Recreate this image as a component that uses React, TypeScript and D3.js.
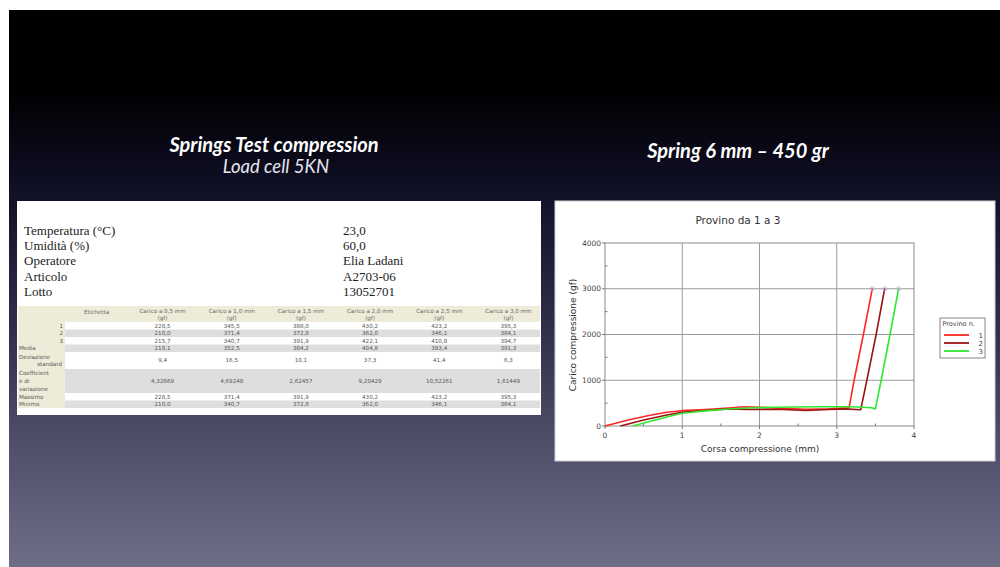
import React from "react";
import * as d3 from "d3";

// ---------- Slide titles ----------
const leftTitle = "Springs Test compression";
const leftSubtitle = "Load cell 5KN";
const rightTitle = "Spring 6 mm \u2013 450 gr";

// ---------- Info block ----------
const infoLabels = ["Temperatura (\u00B0C)", "Umidit\u00E0 (%)", "Operatore", "Articolo", "Lotto"];
const infoValues = ["23,0", "60,0", "Elia Ladani", "A2703-06", "13052701"];

// ---------- Table ----------
const tableHeaders = ["Carico a 0,5 mm", "Carico a 1,0 mm", "Carico a 1,5 mm", "Carico a 2,0 mm", "Carico a 2,5 mm", "Carico a 3,0 mm"];
const headerUnit = "(gf)";
const rowLabels: string[][] = [["1"], ["2"], ["3"], ["Media"], ["Deviazione", "standard"], ["Coefficient", "e di", "variazione"], ["Massimo"], ["Minimo"]];
const row1 = ["228,5", "345,5", "388,0", "430,2", "423,2", "395,3"];
const row2 = ["210,0", "371,4", "372,8", "362,0", "346,1", "384,1"];
const row3 = ["215,7", "340,7", "391,9", "422,1", "410,8", "394,7"];
const rowMedia = ["218,1", "352,5", "384,2", "404,8", "393,4", "391,3"];
const rowDev = ["9,4", "16,5", "10,1", "37,3", "41,4", "6,3"];
const rowCoeff = ["4,32669", "4,69248", "2,62457", "9,20429", "10,52261", "1,61449"];
const rowMax = ["228,5", "371,4", "391,9", "430,2", "423,2", "395,3"];
const rowMin = ["210,0", "340,7", "372,8", "362,0", "346,1", "384,1"];
const tableRows = [row1, row2, row3, rowMedia, rowDev, rowCoeff, rowMax, rowMin];
const rowWeights = [1, 1, 1, 1, 2.25, 3.2, 1, 1];

// ---------- Chart ----------
const chartTitle = "Provino da 1 a 3";
const xLabel = "Corsa compressione (mm)";
const yLabel = "Carico compressione (gf)";
const xTicks = [0, 1, 2, 3, 4];
const yTicks = [0, 1000, 2000, 3000, 4000];
const xMinor = [0.5, 1.5, 2.5, 3.5];
const yMinor = [500, 1500, 2500, 3500];
const legendTitle = "Provino n.";
const seriesNames = ["1", "2", "3"];
const seriesColors = ["#ff2626", "#9a1414", "#2ee82e"];
const s1x = [0, 0.3, 0.6, 0.8, 1.0, 1.3, 1.6, 1.8, 2.0, 2.3, 2.6, 2.9, 3.16, 3.225, 3.345, 3.46];
const s1y = [0, 130, 240, 300, 335, 360, 395, 420, 410, 385, 365, 375, 400, 1000, 2000, 3000];
const s2x = [0.2, 0.5, 0.8, 1.0, 1.3, 1.6, 1.85, 2.0, 2.3, 2.6, 2.9, 3.1, 3.31, 3.39, 3.51, 3.62];
const s2y = [0, 130, 240, 300, 340, 375, 360, 365, 360, 340, 360, 375, 355, 1000, 2000, 3000];
const s3x = [0.36, 0.6, 0.85, 1.0, 1.3, 1.6, 2.0, 2.4, 2.8, 3.2, 3.45, 3.5, 3.575, 3.69, 3.8];
const s3y = [0, 110, 220, 280, 330, 370, 405, 415, 420, 420, 400, 370, 1000, 2000, 3000];
const seriesX = [s1x, s2x, s3x];
const seriesY = [s1y, s2y, s3y];

const SANS = "'DejaVu Sans', Verdana, sans-serif";
const TITLE_FONT = "Lato, 'Open Sans', sans-serif";

export default function App() {
  // chart scales
  const x = d3.scaleLinear().domain([0, 4]).range([605, 914]);
  const y = d3.scaleLinear().domain([0, 4000]).range([426, 243]);
  const line = d3
    .line<[number, number]>()
    .x((d) => x(d[0]))
    .y((d) => y(d[1]));

  // table scales
  const colX = d3.scaleLinear().domain([0, 6]).range([128, 543]);
  const colW = colX(1) - colX(0);
  const tableTop = 322;
  const tableBottom = 408;
  const totalW = d3.sum(rowWeights);
  const rowScale = d3.scaleLinear().domain([0, totalW]).range([tableTop, tableBottom]);
  const cum = d3.cumsum(rowWeights);
  const rowStarts = rowWeights.map((_, i) => rowScale(i === 0 ? 0 : cum[i - 1]));
  const rowEnds = rowWeights.map((_, i) => rowScale(cum[i]));

  const infoY = d3.scaleLinear().domain([0, 4]).range([234.5, 296]);

  return (
    <svg
      width={1000}
      height={567}
      style={{ position: "absolute", left: 0, top: 0, display: "block" }}
    >
      <defs>
        <linearGradient id="bg" x1="0" y1="0" x2="0" y2="1">
          <stop offset="0%" stopColor="#000000" />
          <stop offset="14%" stopColor="#000000" />
          <stop offset="32%" stopColor="#0f0f26" />
          <stop offset="55%" stopColor="#2c2c48" />
          <stop offset="78%" stopColor="#4f4f6a" />
          <stop offset="100%" stopColor="#6f6e87" />
        </linearGradient>
      </defs>
      <rect x={0} y={0} width={1000} height={567} fill="#ffffff" />
      <rect x={9} y={10} width={991} height={557} fill="url(#bg)" />

      {/* Titles */}
      <text x={274} y={152} textAnchor="middle" fill="#ffffff" fontFamily={TITLE_FONT} fontWeight="bold" fontStyle="italic" fontSize={20}>
        {leftTitle}
      </text>
      <text x={276} y={173} textAnchor="middle" fill="#e6e6ee" fontFamily={TITLE_FONT} fontStyle="italic" fontSize={18.5}>
        {leftSubtitle}
      </text>
      <text x={738} y={158} textAnchor="middle" fill="#ffffff" fontFamily={TITLE_FONT} fontWeight="bold" fontStyle="italic" fontSize={20}>
        {rightTitle}
      </text>

      {/* Table panel */}
      <rect x={17} y={201} width={524} height={214} fill="#ffffff" />
      {infoLabels.map((l, i) => (
        <g key={l}>
          <text x={24} y={infoY(i)} fontFamily="'Liberation Serif', 'Times New Roman', serif" fontSize={13} fill="#222">
            {l}
          </text>
          <text x={343} y={infoY(i)} fontFamily="'Liberation Serif', 'Times New Roman', serif" fontSize={13} fill="#222">
            {infoValues[i]}
          </text>
        </g>
      ))}
      {/* header */}
      <rect x={18} y={306} width={522} height={tableTop - 306} fill="#eeecd8" />
      <rect x={18} y={tableTop} width={47} height={tableBottom - tableTop} fill="#eeecd8" />
      {tableRows.map((_, i) => (
        <rect key={"s" + i} x={65} y={rowStarts[i]} width={475} height={rowEnds[i] - rowStarts[i]} fill={i % 2 === 1 ? "#dedede" : "#ffffff"} />
      ))}
      <text x={96.5} y={314} textAnchor="middle" fontFamily={SANS} fontSize={5.6} fill="#666">
        Etichetta
      </text>
      {tableHeaders.map((h, j) => (
        <g key={h}>
          <text x={colX(j) + colW / 2} y={312.5} textAnchor="middle" fontFamily={SANS} fontSize={5.6} fill="#666">
            {h}
          </text>
          <text x={colX(j) + colW / 2} y={319.5} textAnchor="middle" fontFamily={SANS} fontSize={5.6} fill="#666">
            {headerUnit}
          </text>
        </g>
      ))}
      {tableRows.map((row, i) => {
        const mid = (rowStarts[i] + rowEnds[i]) / 2;
        const labs = rowLabels[i];
        const isNum = i < 3;
        return (
          <g key={"r" + i}>
            {labs.map((t, k) => (
              <text
                key={t}
                x={isNum ? 63 : t === "standard" ? 62 : 19}
                y={mid + 2 + (k - (labs.length - 1) / 2) * 7.6}
                textAnchor={isNum || t === "standard" ? "end" : "start"}
                fontFamily={SANS}
                fontSize={5.6}
                fill="#555"
              >
                {t}
              </text>
            ))}
            {row.map((v, j) => (
              <text key={j} x={colX(j) + colW / 2} y={mid + 2} textAnchor="middle" fontFamily={SANS} fontSize={5.6} fill="#555">
                {v}
              </text>
            ))}
          </g>
        );
      })}

      {/* Chart panel */}
      <rect x={555} y={201} width={440} height={260} fill="#ffffff" stroke="#cfcfd6" strokeWidth={1} />
      <text x={738} y={224} textAnchor="middle" fontFamily={SANS} fontSize={10.5} fill="#333">
        {chartTitle}
      </text>
      {/* grid */}
      {xTicks.slice(1, -1).map((t) => (
        <line key={"gx" + t} x1={x(t)} x2={x(t)} y1={y(4000)} y2={y(0)} stroke="#9a9a9a" strokeWidth={1} />
      ))}
      {yTicks.slice(1, -1).map((t) => (
        <line key={"gy" + t} x1={x(0)} x2={x(4)} y1={y(t)} y2={y(t)} stroke="#9a9a9a" strokeWidth={1} />
      ))}
      <rect x={x(0)} y={y(4000)} width={x(4) - x(0)} height={y(0) - y(4000)} fill="none" stroke="#8a8a8a" strokeWidth={1} />
      {/* ticks */}
      {xTicks.map((t) => (
        <g key={"xt" + t}>
          <line x1={x(t)} x2={x(t)} y1={y(0)} y2={y(0) + 3} stroke="#777" />
          <text x={x(t)} y={y(0) + 12} textAnchor="middle" fontFamily={SANS} fontSize={7.5} fill="#444">
            {t}
          </text>
        </g>
      ))}
      {xMinor.map((t) => (
        <line key={"xm" + t} x1={x(t)} x2={x(t)} y1={y(0)} y2={y(0) - 2.5} stroke="#777" />
      ))}
      {yTicks.map((t) => (
        <g key={"yt" + t}>
          <line x1={x(0) - 3} x2={x(0)} y1={y(t)} y2={y(t)} stroke="#777" />
          <text x={x(0) - 4} y={y(t) + 2.5} textAnchor="end" fontFamily={SANS} fontSize={7.5} fill="#444">
            {t}
          </text>
        </g>
      ))}
      {yMinor.map((t) => (
        <line key={"ym" + t} x1={x(0)} x2={x(0) + 2.5} y1={y(t)} y2={y(t)} stroke="#777" />
      ))}
      <text x={760} y={452} textAnchor="middle" fontFamily={SANS} fontSize={9} fill="#333">
        {xLabel}
      </text>
      <text transform={`translate(576, ${335}) rotate(-90)`} textAnchor="middle" fontFamily={SANS} fontSize={9} fill="#333">
        {yLabel}
      </text>
      {/* series */}
      {seriesX.map((xs, i) => {
        const pts = xs.map((v, k) => [v, seriesY[i][k]] as [number, number]);
        const last = pts[pts.length - 1];
        return (
          <g key={"ser" + i}>
            <path d={line(pts) || ""} fill="none" stroke={seriesColors[i]} strokeWidth={1.6} strokeLinejoin="round" />
            <circle cx={x(last[0])} cy={y(last[1])} r={2} fill="none" stroke="#c9b3e6" strokeWidth={1} />
          </g>
        );
      })}
      {/* legend */}
      <rect x={940} y={318} width={45} height={40} fill="#ffffff" stroke="#666" strokeWidth={0.8} />
      <text x={942.5} y={326} fontFamily={SANS} fontSize={6.5} fill="#444">
        {legendTitle}
      </text>
      {seriesNames.map((n, i) => (
        <g key={"lg" + n}>
          <line x1={944} x2={969} y1={335 + i * 8} y2={335 + i * 8} stroke={seriesColors[i]} strokeWidth={1.8} />
          <text x={983} y={338 + i * 8} textAnchor="end" fontFamily={SANS} fontSize={7} fill="#444">
            {n}
          </text>
        </g>
      ))}
    </svg>
  );
}
